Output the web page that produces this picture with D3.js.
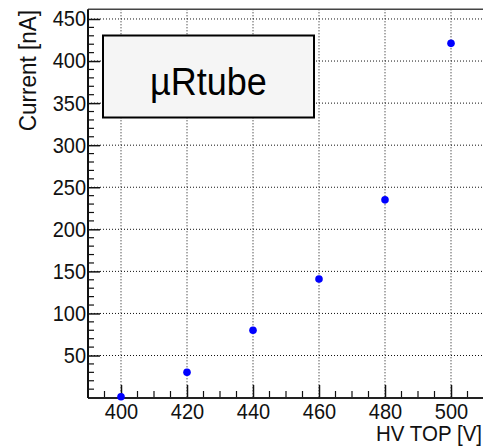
<!DOCTYPE html>
<html>
<head>
<meta charset="utf-8">
<script src="https://cdn.jsdelivr.net/npm/d3@7"></script>
<style>
  body { margin: 0; background: #fff; }
  svg { display: block; font-family: "Liberation Sans", Arial, Helvetica, sans-serif; }
</style>
</head>
<body>
<div id="chart"></div>
<script>
// data
var hvTop = [400, 420, 440, 460, 480, 500];
var current = [1, 30, 80, 141, 235, 421];
var xTicks = [400, 420, 440, 460, 480, 500];
var yTicks = [50, 100, 150, 200, 250, 300, 350, 400, 450];
var label = "µRtube";

var width = 483, height = 447;
var frame = {left: 88, right: 484, top: 9.3, bottom: 398};

var svg = d3.select("#chart")
  .append("svg")
    .attr("width", width)
    .attr("height", height);

var x = d3.scaleLinear()
  .domain([390, 510])
  .range([frame.left, frame.right]);

var y = d3.scaleLinear()
  .domain([-0.5, 461.5])
  .range([frame.bottom, frame.top]);

// grid (dotted)
svg.append("g").selectAll("line.vg")
  .data(xTicks)
  .enter().append("line")
    .attr("x1", function(d){ return x(d) })
    .attr("x2", function(d){ return x(d) })
    .attr("y1", frame.top)
    .attr("y2", frame.bottom)
    .attr("stroke", "#111")
    .attr("stroke-width", 1)
    .attr("stroke-dasharray", "1,2");

svg.append("g").selectAll("line.hg")
  .data(yTicks)
  .enter().append("line")
    .attr("x1", frame.left)
    .attr("x2", frame.right)
    .attr("y1", function(d){ return y(d) })
    .attr("y2", function(d){ return y(d) })
    .attr("stroke", "#111")
    .attr("stroke-width", 1)
    .attr("stroke-dasharray", "1,2");

// frame top line
svg.append("line")
  .attr("x1", frame.left).attr("x2", frame.right)
  .attr("y1", frame.top).attr("y2", frame.top)
  .attr("stroke", "#444").attr("stroke-width", 1.5);

// x axis: ticks point inward (up)
var xMinor = d3.range(395, 510, 5).filter(function(d){ return xTicks.indexOf(d) < 0 });
var xAxis = svg.append("g")
  .attr("transform", "translate(0," + frame.bottom + ")");
xAxis.call(d3.axisBottom(x).tickValues(xTicks).tickSize(-13).tickPadding(0).tickFormat(d3.format("d")));
xAxis.select(".domain").remove();
xAxis.selectAll(".tick line").attr("stroke", "#111").attr("stroke-width", 1.5);
xAxis.selectAll(".tick text")
  .attr("y", 19.6)
  .attr("dy", "0")
  .attr("transform", "scale(1,1.08)")
  .attr("font-size", 20)
  .attr("fill", "#111");
xAxis.selectAll("line.minor")
  .data(xMinor)
  .enter().append("line")
    .attr("class", "minor")
    .attr("x1", function(d){ return x(d) })
    .attr("x2", function(d){ return x(d) })
    .attr("y1", 0).attr("y2", -7)
    .attr("stroke", "#111").attr("stroke-width", 1.2);
xAxis.append("line")
  .attr("x1", frame.left).attr("x2", frame.right)
  .attr("stroke", "#222").attr("stroke-width", 2);

// y axis: ticks point inward (right)
var yMinor = d3.range(10, 460, 10).filter(function(d){ return d % 50 !== 0 });
var yAxis = svg.append("g")
  .attr("transform", "translate(" + frame.left + ",0)");
yAxis.call(d3.axisLeft(y).tickValues(yTicks).tickSize(-12).tickPadding(0).tickFormat(d3.format("d")));
yAxis.select(".domain").remove();
yAxis.selectAll(".tick line").attr("stroke", "#111").attr("stroke-width", 1.5);
yAxis.selectAll(".tick text")
  .attr("x", -2)
  .attr("transform", "scale(1,1.08)")
  .attr("font-size", 20)
  .attr("fill", "#111");
yAxis.selectAll("line.minor")
  .data(yMinor)
  .enter().append("line")
    .attr("class", "minor")
    .attr("y1", function(d){ return y(d) })
    .attr("y2", function(d){ return y(d) })
    .attr("x1", 0).attr("x2", 6)
    .attr("stroke", "#111").attr("stroke-width", 1.2);
yAxis.append("line")
  .attr("y1", frame.top).attr("y2", frame.bottom)
  .attr("stroke", "#111").attr("stroke-width", 2);

// axis titles
svg.append("text")
  .attr("transform", "translate(482,441) scale(1,1.08)")
  .attr("text-anchor", "end")
  .attr("font-size", 20.5)
  .attr("fill", "#111")
  .text("HV TOP [V]");

svg.append("text")
  .attr("transform", "translate(36,10) rotate(-90) scale(1,1.05)")
  .attr("text-anchor", "end")
  .attr("font-size", 22.5)
  .attr("fill", "#111")
  .text("Current [nA]");

// label box
svg.append("rect")
  .attr("x", 103).attr("y", 35.5)
  .attr("width", 211).attr("height", 82)
  .attr("fill", "#f5f5f5")
  .attr("stroke", "#000")
  .attr("stroke-width", 2);
svg.append("text")
  .attr("transform", "translate(208.5,95) scale(1,1.06)")
  .attr("text-anchor", "middle")
  .attr("font-size", 36)
  .attr("fill", "#000")
  .text(label);

// points
svg.append("g").selectAll("circle")
  .data(hvTop)
  .enter().append("circle")
    .attr("cx", function(d){ return x(d) })
    .attr("cy", function(d, i){ return y(current[i]) })
    .attr("r", 3.8)
    .attr("fill", "#0000ff");
</script>
</body>
</html>
